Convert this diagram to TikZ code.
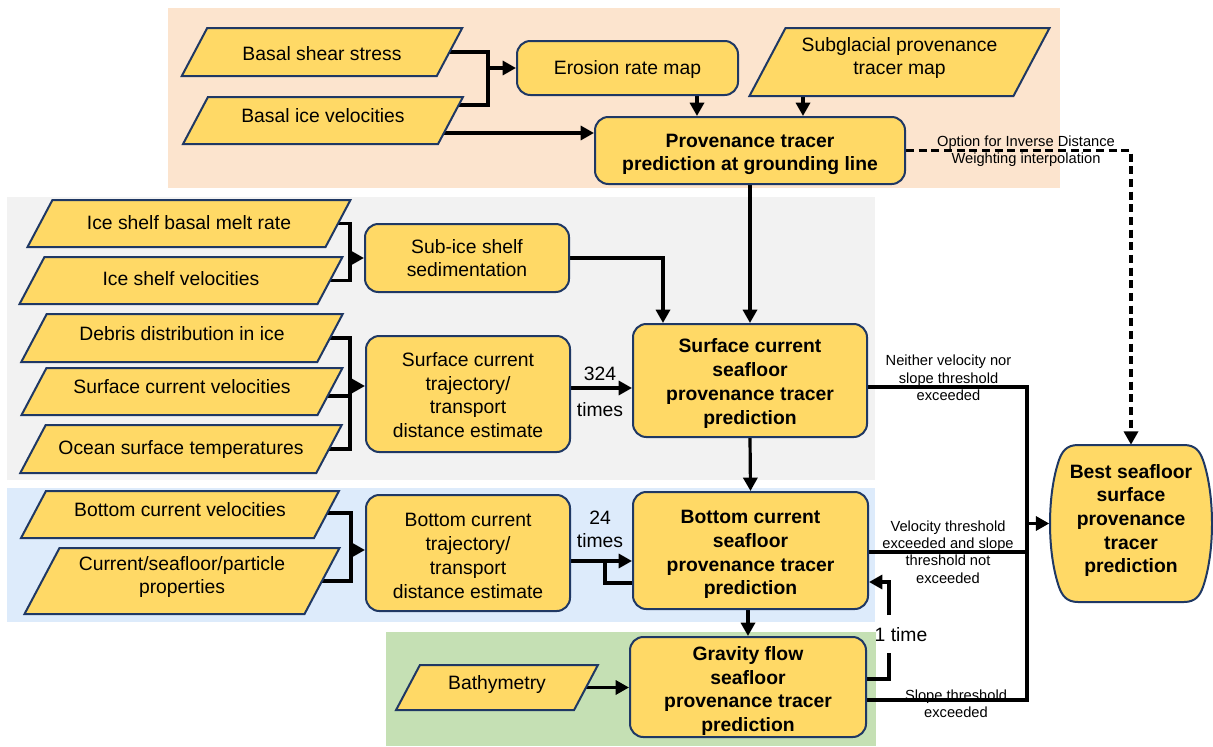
\documentclass[tikz,border=0pt]{standalone}
\usepackage{fontspec}
\setmainfont{Liberation Sans}
\usetikzlibrary{arrows.meta,calc}
\definecolor{peach}{RGB}{252,228,206}
\definecolor{lgray}{RGB}{242,242,242}
\definecolor{lblue}{RGB}{221,235,251}
\definecolor{lgreen}{RGB}{197,224,180}
\definecolor{boxy}{RGB}{255,217,102}
\definecolor{boxb}{RGB}{31,56,100}
\pgfdeclarelayer{back}\pgfdeclarelayer{edges}\pgfsetlayers{back,edges,main}
% \pgram{name}{x}{y}{w}{h}{dy}{text}
\newcommand{\pgram}[7]{%
 \pgfmathsetmacro\pgs{0.265*#5}%
 \draw[pshape] ({#2-#4/2-\pgs},{#3+#5/2}) -- ({#2-#4/2+\pgs},{#3-#5/2}) -- ({#2+#4/2+\pgs},{#3-#5/2}) -- ({#2+#4/2-\pgs},{#3+#5/2}) -- cycle;
 \node[ptext, minimum width=#4*0.75pt, minimum height=#5*0.75pt] (#1) at (#2,#3) {};
 \node[ptext] (#1t) at (#2,{#3+#6}) {#7};
}
% \rbox[textstyle]{name}{x}{y}{w}{h}{dy}{text}
\newcommand{\rbox}[8][]{%
 \node[box, minimum width=#5*0.75pt, minimum height=#6*0.75pt] (#2) at (#3,#4) {};
 \node[ptext,#1] (#2t) at (#3,{#4+#7}) {#8};
}
\begin{document}
\begin{tikzpicture}[x=0.75pt,y=-0.75pt,
 font=\fontsize{14.5}{17.8}\selectfont,
 box/.style={draw=boxb, line width=1.5pt, fill=boxy, rounded corners=10pt, inner sep=0pt},
 pshape/.style={draw=boxb, line width=1.5pt, fill=boxy, line join=miter},
 ptext/.style={inner sep=0pt, align=center},
 boldtxt/.style={font=\fontsize{14.5}{17.8}\selectfont\bfseries},
 conn/.style={line width=2.4pt, black},
 arr/.style={conn, -{Triangle[length=10pt,width=10.5pt]}},
 dasharr/.style={arr, dash pattern=on 6pt off 3.5pt},
 lbl/.style={font=\fontsize{11}{13.1}\selectfont, align=center, inner sep=0pt}
]
\useasboundingbox (0,0) rectangle (1213,746);
\begin{pgfonlayer}{back}
\fill[peach] (168,8) rectangle (1060,188);
\fill[lgray] (7,197) rectangle (875,480);
\fill[lblue] (7,488) rectangle (875,622);
\fill[lgreen] (386,632) rectangle (876,746);
\end{pgfonlayer}

% top section
\pgram{bss}{322}{52}{255}{48}{2}{Basal shear stress}
\pgram{biv}{323}{120.5}{255}{47}{-5}{Basal ice velocities}
\rbox{ero}{627.5}{68}{221}{54}{2}{Erosion rate map}
\pgram{sub}{899.5}{62}{264}{68}{-4}{Subglacial provenance\\tracer map}
\rbox[boldtxt]{pred}{750}{150.5}{310}{67}{4}{Provenance tracer\\prediction at grounding line}

% gray section
\pgram{isbmr}{189}{223.5}{298}{47}{-1}{Ice shelf basal melt rate}
\pgram{isv}{181}{280.5}{298}{47}{-2}{Ice shelf velocities}
\rbox{sis}{467}{258}{204}{68}{0}{Sub-ice shelf\\sedimentation}
\pgram{dd}{182}{338}{296}{48}{-4}{Debris distribution in ice}
\pgram{scv}{182}{391.5}{296}{47}{-5}{Surface current velocities}
\pgram{ost}{181}{449}{296}{48}{1}{Ocean surface temperatures}
\rbox{sct}{468}{394}{204}{116}{1}{Surface current\\trajectory/\\transport\\distance estimate}
\rbox[boldtxt]{scs}{750}{380.5}{234}{113}{3}{Surface current\\seafloor\\provenance tracer\\prediction}

% blue section
\pgram{bcv}{180}{514.5}{293}{47}{-5}{Bottom current velocities}
\pgram{csp}{182}{581}{280}{66}{-4}{Current/seafloor/particle\\properties}
\rbox{bct}{468}{553}{204}{116}{3}{Bottom current\\trajectory/\\transport\\distance estimate}
\rbox[boldtxt]{bcs}{750.5}{550.5}{235}{117}{4}{Bottom current\\seafloor\\provenance tracer\\prediction}

% green section
\pgram{bat}{497}{687.5}{178}{45}{-3}{Bathymetry}
\rbox[boldtxt]{gf}{748}{687}{236}{100}{4}{Gravity flow\\seafloor\\provenance tracer\\prediction}

% best
\draw[pshape] (1078,445) -- (1184,445) .. controls (1196,445) and (1200,452) .. (1203,460) .. controls (1215,495) and (1215,552) .. (1203,587) .. controls (1200,595) and (1196,602) .. (1184,602) -- (1078,602) .. controls (1066,602) and (1062,595) .. (1059,587) .. controls (1047,552) and (1047,495) .. (1059,460) .. controls (1062,452) and (1066,445) .. (1078,445) -- cycle;
\node[ptext, minimum width=163*0.75pt, minimum height=157*0.75pt] (best) at (1131,523.5) {};
\node[ptext, boldtxt] (bestt) at (1131,520.5) {Best seafloor\\surface\\provenance\\tracer\\prediction};

% labels
\node[lbl] (lopt) at (1026,151) {Option for Inverse Distance\\Weighting interpolation};
\node[lbl] (lnei) at (948.5,378) {Neither velocity nor\\slope threshold\\exceeded};
\node[lbl] (lvel) at (948,552) {Velocity threshold\\exceeded and slope\\threshold not\\exceeded};
\node[lbl] (lslo) at (956,704) {Slope threshold\\exceeded};
\node (l324) at (600,374) {324};
\node (ltimesa) at (600,410) {times};
\node (l24) at (600,518) {24};
\node (ltimesb) at (600,541) {times};
\node (lone) at (901,635) {1 time};

\begin{pgfonlayer}{edges}
% top
\draw[conn] (bss.center) -| (488,105) -- ([shift={(0,-15.5)}]biv.center);
\draw[arr] (488,68) -- (ero.west);
\draw[arr] ([shift={(0,12.5)}]biv.center) -- ([shift={(0,-17.5)}]pred.west);
\coordinate (e1) at ([shift={(69.5,0)}]ero.south);
\draw[arr] (e1) -- (e1 |- pred.north);
\coordinate (s1) at ([shift={(-96.5,0)}]sub.south);
\draw[arr] (s1) -- (s1 |- pred.north);
\draw[dasharr] (pred.east) -| (best.north);
\draw[arr] (pred.south) -- (scs.north);
% gray
\draw[conn] (isbmr.center) -| (350,280.5) -- (isv.center);
\draw[arr] (350,258) -- (sis.west);
\draw[arr] (sis.east) -| ([shift={(-87,0)}]scs.north);
\draw[conn] (dd.center) -| (350,449) -- (ost.center);
\draw[conn] ([shift={(0,4.5)}]scv.center) -- (350,396);
\draw[arr] (350,386) -- ([shift={(0,-8)}]sct.west);
\draw[arr] ([shift={(0,-6)}]sct.east) -- ([shift={(0,7.5)}]scs.west);
\draw[arr] (scs.south) -- (bcs.north);
% right side
\coordinate (jt) at (1027,387);
\coordinate (jb) at (1027,700);
\draw[conn] ([shift={(0,6.5)}]scs.east) -- (jt) -- (jb) -- ([shift={(0,13)}]gf.east);
\coordinate (bcse) at ([shift={(0,1.5)}]bcs.east);
\draw[conn] (bcse) -- (bcse -| jt);
\draw[arr] (jt |- best.west) -- (best.west);
% blue
\draw[conn] ([shift={(0,-1.5)}]bcv.center) -| (351,581) -- (csp.center);
\draw[arr] (351,550) -- ([shift={(0,-3)}]bct.west);
\draw[arr] ([shift={(0,8)}]bct.east) -- ([shift={(0,10.5)}]bcs.west);
\draw[conn] ([shift={(0,32.5)}]bcs.west) -| (605,561);
\draw[arr] (gf.north |- bcs.south) -- (gf.north);
% green
\draw[arr] (bat.center) -- (bat.center -| gf.west);
\draw[conn] ([shift={(0,-8)}]gf.east) -| (889,653);
\draw[arr] (889,615) |- ([shift={(0,31.5)}]bcs.east);
\end{pgfonlayer}
\end{tikzpicture}
\end{document}
